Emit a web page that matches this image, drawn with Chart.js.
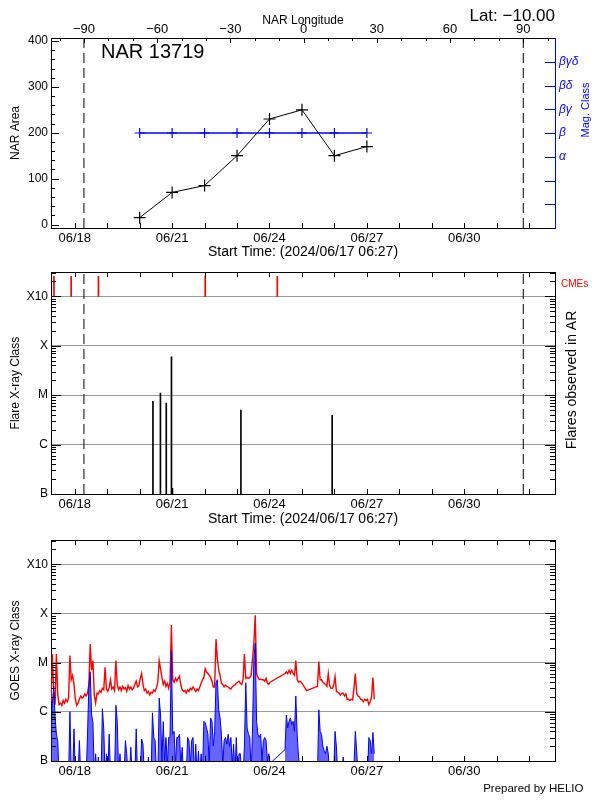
<!DOCTYPE html>
<html>
<head>
<meta charset="utf-8">
<script src="https://cdn.jsdelivr.net/npm/chart.js@4/dist/chart.umd.min.js"></script>
<style>
  html, body { margin: 0; padding: 0; background: #fff; }
  #wrap { position: relative; width: 600px; height: 800px; }
  canvas { position: absolute; left: 0; }
</style>
</head>
<body>
<div id="wrap">
  <canvas id="narChart" width="600" height="262" style="top:0"></canvas>
  <canvas id="flareChart" width="600" height="268" style="top:262px"></canvas>
  <canvas id="goesChart" width="600" height="270" style="top:530px"></canvas>
</div>
<script>
// times are days of June 2024 (UT), 17.269 = 2024/06/17 06:27
var startDay = 17.269;
var endDay = 32.795;
var lonMin = -103.5, lonMax = 103.0;
var limbLon = [-90, 90];

// NAR 13719
var narDays = [20, 21, 22, 23, 24, 25, 26, 27];
var narArea = [15, 70, 85, 150, 230, 250, 150, 170];
var magClass = ['β', 'β', 'β', 'β', 'β', 'β', 'β', 'β'];
var magLabels = ['α', 'β', 'βγ', 'βδ', 'βγδ'];

// flares in the AR and CMEs
var flareTimes = [20.41, 20.64, 20.82, 20.98, 21.01, 23.12, 25.93];
var flareClass = ['C7.5', 'M1.1', 'C6.9', 'M6.0', 'B1.3', 'C5.0', 'C3.9'];
var cmeTimes = [17.36, 17.89, 18.73, 22.02, 24.24];

// GOES hourly from startDay, in units of 1e-6 W/m2 (C1 = 1), null = no data
var goesLong = [
  1.6, 15, 2.5, 1.4, 15, 2.2, 1.4, 1.5, 1.35, 1.7,
  1.5, 1.8, 1.6, 1.9, 14, 4.5, 5.5, 3.6, 1.8, 1.35,
  1.5, 1.8, 2.1, 1.9, 2.0, 2.3, 2.1, 2.4, 3.5, 24,
  7, 11, 2.2, 1.5, 2.4, 2.3, 2.7, 2.5, 3.0, 2.8,
  8, 2.9, 2.6, 3.1, 4.5, 2.9, 3.2, 2.7, 11, 3.5,
  2.8, 3.2, 2.7, 3.3, 2.9, 3.1, 2.6, 3.4, 2.9, 3.2,
  2.8, 3.0, 3.6, 4.2, 3.2, 3.4, 4.8, 6.0, 3.6, 2.7,
  2.9, 2.4, 2.6, 2.2, 2.5, 2.4, 2.8, 2.6, 3.1, 4.0,
  11, 7.5, 5.0, 3.6, 4.2, 3.3, 3.8, 3.0, 4.0, 58,
  4.5, 4.0, 4.8, 4.2, 4.8, 5.3, 3.5, 2.8, 2.6, 2.7,
  2.4, 2.8, 2.6, 3.0, 2.8, 3.2, 2.9, 2.6, 2.9, 2.7,
  3.2, 3.8, 4.4, 5.0, 7.5, 6.5, 6.0, 5.5, 5.0, 4.2,
  3.2, 3.2, 30, 12, 7, 5.5, 3.8, 3.6, 3.2, 3.5,
  3.3, 3.2, 3.0, 2.9, 3.2, 3.4, 3.5, 3.8, 4.0, 4.2,
  3.8, 3.6, 4.5, 15, 4.8, 5.0, 4.8, 5.0, 5.5, 12,
  25, 92, 6, 5.0, 4.5, 4.6, 4.5, 4.5, 4.2, 4.8,
  3.8, 3.6, 4.0, null, null, null, null, null, null, null,
  null, null, null, 6.0, 6.5, 6.0, 7.0, 6.0, 7.0, 6.0,
  5.5, 11, 4.5, 4.0, 4.2, 4.0, null, null, null, 2.7,
  null, null, null, null, null, null, null, 3.3, 10.5, 4.5,
  4.5, 4.0, 3.8, 3.6, 3.3, 6.0, 3.4, 3.0, 3.0, 3.5,
  5.2, 2.6, 2.5, 2.4, 2.2, 2.4, 2.4, 2.1, 2.3, 1.8,
  1.8, 1.7, 1.8, 1.75, 3.0, 6.0, 2.4, 2.1, 2.0, 1.8,
  1.75, 1.6, 1.8, 1.7, 1.8, 1.4, 1.6, 2.0, 5.0, 1.8
];
var goesShort = [
  0.3, 1.5, 3.3, 0.8, 0.35, 0.25, 0.05, 0.05, 0.05, 0.05,
  0.05, 0.05, 0.05, 0.05, 1.0, 0.05, 0.05, 0.45, 0.05, 0.05,
  0.05, 0.26, 0.05, 0.05, 0.05, 0.05, 0.05, 0.35, 3.5, 6.5,
  0.9, 0.6, 0.05, 0.14, 0.05, 0.12, 0.05, 0.05, 1.16, 0.45,
  0.05, 0.14, 0.05, 0.35, 0.05, 0.05, 0.05, 0.05, 1.35, 0.64,
  0.05, 0.14, 0.05, 0.05, 0.05, 0.26, 0.14, 0.05, 0.05, 0.19,
  0.05, 0.05, 0.05, 0.45, 0.05, 0.05, 0.05, 0.28, 0.22, 0.05,
  0.05, 0.05, 0.12, 0.05, 0.05, 0.95, 0.3, 0.26, 0.05, 0.05,
  1.9, 0.86, 0.1, 0.63, 0.1, 0.3, 0.08, 0.3, 0.3, 17,
  0.35, 0.4, 0.08, 0.3, 0.3, 0.35, 0.08, 0.19, 0.05, 0.05,
  0.05, 0.3, 0.26, 0.08, 0.26, 0.3, 0.05, 0.22, 0.05, 0.16,
  0.05, 0.14, 0.05, 0.64, 0.6, 0.47, 0.35, 0.08, 0.75, 0.64,
  0.2, 0.4, 3.9, 4.5, 1.1, 0.75, 0.35, 0.08, 0.26, 0.3,
  0.22, 0.35, 0.2, 0.3, 0.08, 0.22, 0.05, 0.3, 0.05, 0.14,
  0.14, 0.05, 0.05, 0.2, 3.9, 0.47, 0.35, 0.3, 0.05, 0.47,
  12, 25, 0.64, 0.35, 0.3, 0.35, 0.1, 0.26, 0.3, 0.26,
  0.1, 0.14, 0.09, null, null, null, null, null, null, null,
  null, null, null, 0.17, 0.86, 0.47, 0.64, 0.75, 0.55, 0.64,
  0.4, 2.1, 0.35, 0.12, 0.08, 0.05, null, null, null, 0.05,
  null, null, null, null, null, null, null, 0.05, 1.1, 0.4,
  0.35, 0.2, 0.16, 0.14, 0.2, 0.14, 0.05, 0.05, 0.05, 0.05,
  0.4, 0.2, 0.05, 0.05, 0.05, 0.05, 0.12, 0.05, 0.05, 0.05,
  0.05, 0.05, 0.05, 0.05, 0.08, 0.4, 0.16, 0.05, 0.05, 0.05,
  0.05, 0.05, 0.05, 0.05, 0.05, 0.3, 0.26, 0.14, 0.38, 0.14
];

var classNames = {'0.1': 'B', '1': 'C', '10': 'M', '100': 'X', '1000': 'X10'};
var fluxMin = 0.1, fluxMax = 3080;
var areaMin = -7.5, areaMax = 406.5;

var BLUE = '#0000ff', RED = '#ff0000';
Chart.defaults.font.family = 'Liberation Sans';
Chart.defaults.font.size = 12;
Chart.defaults.color = '#000';

function classToFlux(c) {
  var f = {A: 0.01, B: 0.1, C: 1, M: 10, X: 100}[c.charAt(0)];
  return f * parseFloat(c.slice(1));
}
function dayLabel(d) {
  var m = d > 30 ? 7 : 6, dd = d > 30 ? d - 30 : d;
  return '0' + m + '/' + (dd < 10 ? '0' : '') + dd;
}
function isDecade(v) {
  var l = Math.log10(v);
  return Math.abs(l - Math.round(l)) < 1e-6;
}
function logTickList() {
  var t = [];
  for (var e = -1; e <= 3; e++) {
    for (var k = 1; k <= 9; k++) {
      var v = +(k * Math.pow(10, e)).toPrecision(3);
      if (v <= fluxMax) t.push({value: v});
    }
  }
  return t;
}
function goesPoints(arr) {
  return arr.map(function(v, i) { return {x: startDay + i / 24, y: v}; });
}

// IDL style ticks pointing into the plot
function inTicks(spec) {
  return {
    id: 'inTicks',
    afterDatasetsDraw: function(chart) {
      var ctx = chart.ctx, a = chart.chartArea;
      ctx.save();
      ctx.lineWidth = 1;
      Object.keys(spec).forEach(function(id) {
        var s = chart.scales[id], o = spec[id];
        ctx.strokeStyle = o.color || '#000';
        ctx.beginPath();
        s.ticks.forEach(function(t) {
          var len = o.major(t.value) ? o.len[0] : o.len[1];
          var p = Math.round(s.getPixelForValue(t.value)) + 0.5;
          if (s.position === 'bottom') { ctx.moveTo(p, a.bottom); ctx.lineTo(p, a.bottom - len); }
          if (s.position === 'top') { ctx.moveTo(p, a.top); ctx.lineTo(p, a.top + len); }
          if (s.position === 'left') { ctx.moveTo(a.left, p); ctx.lineTo(a.left + len, p); }
          if (s.position === 'right') { ctx.moveTo(a.right, p); ctx.lineTo(a.right - len, p); }
        });
        ctx.stroke();
      });
      ctx.restore();
    }
  };
}

function textLabels(items) {
  return {
    id: 'textLabels',
    afterDraw: function(chart) {
      var ctx = chart.ctx;
      items.forEach(function(it) {
        ctx.save();
        ctx.font = it.font;
        ctx.fillStyle = it.color || '#000';
        ctx.textAlign = it.align || 'left';
        ctx.textBaseline = it.baseline || 'alphabetic';
        ctx.translate(it.x, it.y);
        if (it.rot) ctx.rotate(it.rot);
        ctx.fillText(it.text, 0, 0);
        ctx.restore();
      });
    }
  };
}

function dayAxis(pos, size, showLabels, pad) {
  return {
    type: 'linear', position: pos, min: startDay, max: endDay, offset: false,
    afterFit: function(s) { s.height = size; },
    afterBuildTicks: function(s) {
      var t = [];
      for (var d = 18; d <= 32; d++) t.push({value: d});
      s.ticks = t;
    },
    grid: {display: false, drawTicks: false, offset: false},
    border: {display: true, color: '#000'},
    ticks: {
      display: showLabels, padding: pad, autoSkip: false, maxRotation: 0,
      font: {size: 13},
      callback: function(v) { return (v - 18) % 3 === 0 ? dayLabel(v) : ''; }
    }
  };
}

function fluxAxis(pos, title, showLabels) {
  return {
    type: 'logarithmic', position: pos, min: fluxMin, max: fluxMax,
    afterFit: function(s) { s.width = pos === 'left' ? 51 : 45; },
    afterBuildTicks: function(s) { s.ticks = logTickList(); },
    grid: {
      display: showLabels, drawTicks: false,
      color: function(c) {
        return c.tick && c.tick.value >= 1 && isDecade(c.tick.value) ? '#999999' : 'rgba(0,0,0,0)';
      }
    },
    border: {display: true, color: '#000'},
    ticks: {
      display: showLabels, padding: 3, autoSkip: false, font: {size: 12},
      callback: function(v) { return classNames[String(v)] || ''; }
    },
    title: {display: !!title, text: title, font: {size: 12}, padding: {top: 8, bottom: 0}}
  };
}

function limbLine(lon, yMin, yMax) {
  return {
    type: 'line', xAxisID: 'lon', yAxisID: 'y',
    data: [{x: lon, y: yMin}, {x: lon, y: yMax}],
    borderColor: '#000', borderWidth: 1, borderDash: [10, 5],
    pointRadius: 0
  };
}

var logSpec = {
  major: function(v) { return isDecade(v); }, len: [10, 5]
};
var daySpec = {major: function() { return true; }, len: [5, 5]};

// ---------- NAR area / magnetic class ----------
new Chart(document.getElementById('narChart'), {
  type: 'line',
  data: {
    datasets: [
      {
        data: narDays.map(function(d, i) { return {x: d, y: narArea[i]}; }),
        xAxisID: 'x', yAxisID: 'y',
        borderColor: '#000', borderWidth: 1,
        pointStyle: 'cross', pointRadius: 6, pointBorderColor: '#000', pointBorderWidth: 1.2
      },
      {
        data: narDays.map(function(d, i) { return {x: d, y: magLabels.indexOf(magClass[i]) + 3}; }),
        xAxisID: 'x', yAxisID: 'mag',
        borderColor: BLUE, borderWidth: 1.5,
        pointStyle: 'cross', pointRadius: 5, pointBorderColor: BLUE, pointBorderWidth: 1.2
      },
      limbLine(limbLon[0], areaMin, areaMax),
      limbLine(limbLon[1], areaMin, areaMax)
    ]
  },
  options: {
    responsive: false, animation: false, events: [],
    layout: {padding: 0},
    plugins: {legend: {display: false}, tooltip: {enabled: false}},
    scales: {
      x: Object.assign(dayAxis('bottom', 34, true, 3), {
        title: {display: true, text: 'Start Time: (2024/06/17 06:27)', font: {size: 14}, padding: {top: 0, bottom: 1.6}}
      }),
      lon: {
        type: 'linear', position: 'top', min: lonMin, max: lonMax,
        afterFit: function(s) { s.height = 38; },
        afterBuildTicks: function(s) {
          var t = [];
          for (var v = -100; v <= 100; v += 10) t.push({value: v});
          s.ticks = t;
        },
        grid: {display: false, drawTicks: false},
        border: {display: true, color: '#000'},
        ticks: {
          padding: 1, autoSkip: false, maxRotation: 0, font: {size: 13},
          callback: function(v) { return v % 30 === 0 ? (v < 0 ? '\u2212' + (-v) : String(v)) : ''; }
        },
        title: {display: true, text: 'NAR Longitude', font: {size: 12}, padding: {top: 13, bottom: 0}}
      },
      y: {
        type: 'linear', position: 'left', min: areaMin, max: areaMax,
        afterFit: function(s) { s.width = 51; },
        afterBuildTicks: function(s) {
          var t = [];
          for (var v = 0; v <= 400; v += 20) t.push({value: v});
          s.ticks = t;
        },
        grid: {display: false, drawTicks: false},
        border: {display: true, color: '#000'},
        ticks: {padding: 3, autoSkip: false, font: {size: 12},
          callback: function(v) { return v % 100 === 0 ? String(v) : ''; }},
        title: {display: true, text: 'NAR Area', font: {size: 12}, padding: {top: 8, bottom: 0}}
      },
      mag: {
        type: 'linear', position: 'right', min: 0, max: 8,
        afterFit: function(s) { s.width = 45; },
        afterBuildTicks: function(s) {
          var t = [];
          for (var v = 1; v <= 7; v++) t.push({value: v});
          s.ticks = t;
        },
        grid: {display: false, drawTicks: false},
        border: {display: true, color: BLUE},
        ticks: {padding: 4, autoSkip: false, color: BLUE, font: {size: 12, style: 'italic'},
          callback: function(v) { return magLabels[v - 3] || ''; }}
      }
    }
  },
  plugins: [
    inTicks({
      x: daySpec,
      lon: {major: function(v) { return v % 30 === 0; }, len: [5, 3]},
      y: {major: function(v) { return v % 100 === 0; }, len: [8, 4]},
      mag: {major: function() { return true; }, len: [10, 10], color: BLUE}
    }),
    textLabels([
      {text: 'Lat: \u221210.00', x: 555, y: 20.5, font: '17px "Liberation Sans"', align: 'right'},
      {text: 'NAR 13719', x: 101, y: 57.5, font: '20px "Liberation Sans"'},
      {text: 'Mag. Class', x: 586, y: 110, font: '11px "Liberation Sans"', color: BLUE,
        align: 'center', baseline: 'middle', rot: -Math.PI / 2}
    ])
  ]
});

// ---------- flares observed in the AR ----------
new Chart(document.getElementById('flareChart'), {
  type: 'bar',
  data: {
    datasets: [
      {
        type: 'bar', xAxisID: 'x', yAxisID: 'y',
        data: flareTimes.map(function(t, i) { return {x: t, y: [fluxMin, classToFlux(flareClass[i])]}; }),
        backgroundColor: '#000', borderWidth: 0, barThickness: 1, grouped: false
      },
      {
        type: 'bar', xAxisID: 'x', yAxisID: 'y',
        data: cmeTimes.map(function(t) { return {x: t, y: [1000, 2550]}; }),
        backgroundColor: RED, borderWidth: 0, barThickness: 1, grouped: false
      },
      limbLine(limbLon[0], fluxMin, fluxMax),
      limbLine(limbLon[1], fluxMin, fluxMax)
    ]
  },
  options: {
    responsive: false, animation: false, events: [],
    layout: {padding: 0},
    plugins: {legend: {display: false}, tooltip: {enabled: false}},
    scales: {
      x: Object.assign(dayAxis('bottom', 36, true, 3), {
        title: {display: true, text: 'Start Time: (2024/06/17 06:27)', font: {size: 14}, padding: {top: 0, bottom: 2.6}}
      }),
      xTop: dayAxis('top', 4, false, 0),
      lon: {type: 'linear', display: false, min: lonMin, max: lonMax, offset: false},
      y: fluxAxis('left', 'Flare X-ray Class', true),
      y2: fluxAxis('right', '', false)
    }
  },
  plugins: [
    inTicks({x: daySpec, xTop: daySpec, y: logSpec, y2: logSpec}),
    textLabels([
      {text: 'CMEs', x: 561, y: 25, font: '10px "Liberation Sans"', color: RED},
      {text: 'Flares observed in AR', x: 572, y: 118, font: '14px "Liberation Sans"',
        align: 'center', baseline: 'middle', rot: -Math.PI / 2}
    ])
  ]
});

// ---------- GOES X-ray flux ----------
new Chart(document.getElementById('goesChart'), {
  type: 'line',
  data: {
    datasets: [
      {
        // 0.5-4 A channel, the trace itself (joined across data gaps)
        data: goesPoints(goesShort),
        xAxisID: 'x', yAxisID: 'y',
        borderColor: BLUE, borderWidth: 1, pointRadius: 0, spanGaps: true
      },
      {
        // same channel, shading down to the axis between gaps only
        data: goesPoints(goesShort),
        xAxisID: 'x', yAxisID: 'y',
        borderWidth: 0, backgroundColor: 'rgba(0,0,255,0.6)', fill: 'start',
        pointRadius: 0, spanGaps: false
      },
      {
        data: goesPoints(goesLong),
        xAxisID: 'x', yAxisID: 'y',
        borderColor: RED, borderWidth: 1.4, pointRadius: 0, spanGaps: true
      }
    ]
  },
  options: {
    responsive: false, animation: false, events: [],
    layout: {padding: 0},
    plugins: {legend: {display: false}, tooltip: {enabled: false}},
    scales: {
      x: dayAxis('bottom', 39, true, 3),
      xTop: dayAxis('top', 2, false, 0),
      y: fluxAxis('left', 'GOES X-ray Class', true),
      y2: fluxAxis('right', '', false)
    }
  },
  plugins: [
    inTicks({x: daySpec, xTop: daySpec, y: logSpec, y2: logSpec}),
    textLabels([
      {text: 'Prepared by HELIO', x: 583.5, y: 261.5, font: '11.5px "Liberation Sans"', align: 'right'}
    ])
  ]
});
</script>
</body>
</html>
